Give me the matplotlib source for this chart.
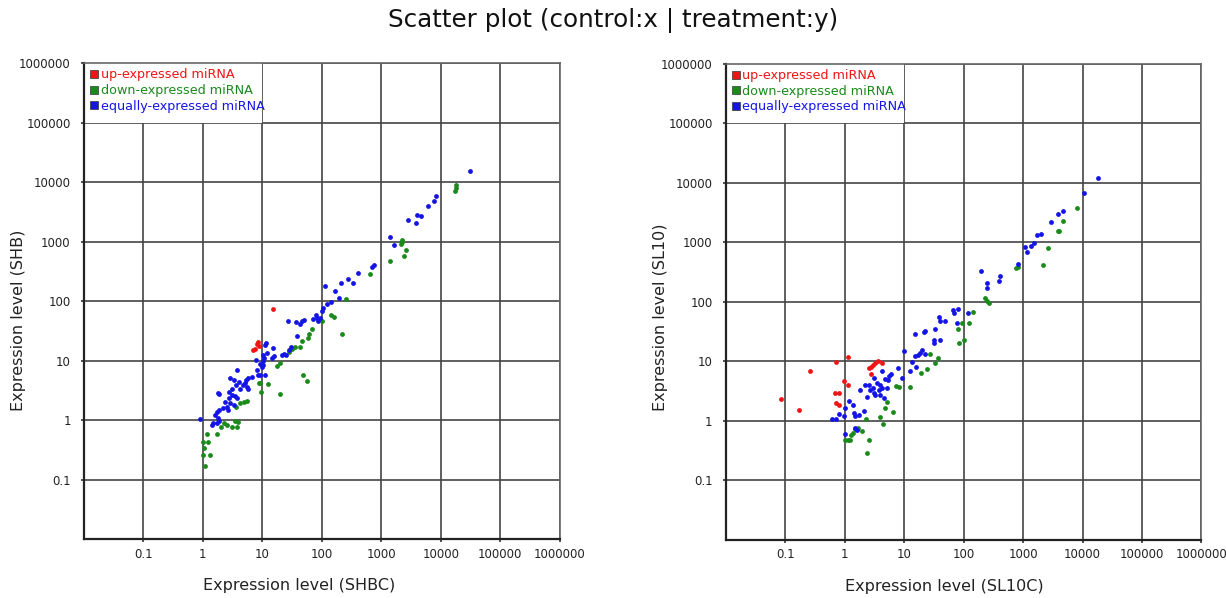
import matplotlib
matplotlib.use("Agg")
import matplotlib.pyplot as plt
from matplotlib.patches import Rectangle
from matplotlib.lines import Line2D

title = "Scatter plot (control:x | treatment:y)"
tick_vals = [0.1, 1, 10, 100, 1000, 10000, 100000, 1000000]
tick_labels = ["0.1", "1", "10", "100", "1000", "10000", "100000", "1000000"]
legend_labels = ["up-expressed miRNA", "down-expressed miRNA", "equally-expressed miRNA"]
color_up = "#f01414"
color_down = "#1a8a1a"
color_eq = "#1414e6"

# ---- Left panel: SHBC (x) vs SHB (y) ----
left_xlabel = "Expression level (SHBC)"
left_ylabel = "Expression level (SHB)"
left_up_x = [15.3, 6.9, 7.5, 8.2, 8.6, 8.8]
left_up_y = [73.7, 15.1, 16.1, 19.1, 20.8, 17.9]
left_down_x = [17670, 17800, 18000, 2220, 2200, 2180, 2590, 2430, 1396, 645, 252,
               143, 160, 221, 99.5, 68, 62, 59, 45.9, 43, 35.5, 32, 28.5,
               19.9, 17.5, 49, 55.7, 19.9, 9.2, 8.8, 12.3, 9.4, 5.5, 5.0, 4.2, 3.6,
               3.5, 3.9, 3.7, 3.1, 2.3, 2.5, 2.03, 1.72, 1.17,
               1.0, 1.24, 1.05, 1.0, 1.33, 1.07]
left_down_y = [7080, 8050, 8920, 1095, 1000, 912, 724, 589, 485, 294, 110,
               59, 54, 28.5, 47, 35, 27.8, 23.8, 21.5, 16.8, 17.3, 15.6, 14.2,
               9.06, 8.17, 5.9, 4.6, 2.73, 4.3, 4.2, 4.07, 2.95, 2.14, 2.06, 1.98, 1.7,
               0.97, 0.95, 0.77, 0.77, 0.89, 0.84, 0.77, 0.6, 0.6,
               0.43, 0.43, 0.35, 0.26, 0.26, 0.17]
left_eq_x = [30800, 8480, 7650, 6150, 4630, 3920, 3770, 2760, 1396, 1630, 762, 697,
             410, 279, 207, 338, 115, 167, 194, 141, 124, 106, 102,
             79, 72, 87.5, 93, 84, 50, 46, 37, 43, 27, 38,
             30, 28, 23, 25, 21.5, 11.6, 11.1, 15, 11.9, 10.4, 10.8, 10.2, 15.4, 14.8,
             7.9, 9.2, 9.8, 10.4, 8.1, 8.6, 9.2, 11.1,
             6.6, 5.8, 5.3, 5.1, 5.5, 5.8, 4.8,
             3.7, 2.9, 3.3, 4.1, 3.6, 3.07, 4.2,
             1.79, 1.83, 2.77, 3.07, 3.5, 3.7, 2.7, 2.37, 2.9, 3.3, 2.5, 2.2, 2.6,
             1.9, 1.72, 1.61, 1.76, 1.83, 1.72, 1.47, 1.42, 0.9]
left_eq_y = [15700, 5910, 4880, 3960, 2690, 2800, 2080, 2340, 1210, 878, 405, 380,
             305, 242, 205, 205, 182, 150, 115, 96, 89, 76, 68,
             60, 50, 47, 52, 52, 48, 47, 45, 42.5, 47, 26,
             16.8, 15.1, 13, 12.5, 12.8, 20, 18.4, 16.2, 13.7, 12.5, 11, 9.9, 12, 11,
             10.3, 8.8, 7.8, 8.5, 7, 5.9, 5.8, 5.9,
             5.4, 5.1, 4.75, 4.2, 3.7, 3.4, 3.9,
             7, 5.2, 4.75, 4.5, 3.9, 3.4, 3.4,
             2.91, 2.73, 3.03, 2.66, 2.6, 2.34, 2.4, 2.06, 1.93, 1.81, 1.7, 1.63, 1.49,
             1.49, 1.4, 1.23, 1.11, 0.97, 0.91, 0.89, 0.84, 1.04]

# ---- Right panel: SL10C (x) vs SL10 (y) ----
right_xlabel = "Expression level (SL10C)"
right_ylabel = "Expression level (SL10)"
right_up_x = [0.086, 0.173, 0.258, 0.70, 1.14, 0.96, 1.14, 0.68, 0.79, 0.72, 0.79,
              2.53, 2.77, 3.0, 3.28, 3.63, 4.24, 2.77]
right_up_y = [2.34, 1.53, 6.9, 9.9, 12, 4.7, 4.0, 3.0, 3.0, 2.03, 1.86,
              7.7, 8.2, 8.7, 9.3, 10.2, 9.3, 6.2]
right_down_x = [8030, 4670, 3950, 3800, 2610, 2130, 768, 818, 231, 247, 270,
                142, 121, 94, 80, 82, 100, 36.5, 32.6, 27.5, 24.2, 19.4,
                12.4, 8.1, 7.4, 6.4, 5.1, 4.7, 3.9, 4.35, 2.31, 2.6, 2.37,
                1.95, 1.68, 1.51, 1.36, 1.29, 1.14, 1.03, 1.24]
right_down_y = [3850, 2300, 1580, 1580, 819, 419, 368, 393, 115, 105, 97.5,
                67, 45, 43.8, 34.7, 20.7, 23, 11.6, 9.6, 13.4, 7.6, 6.5,
                3.68, 3.68, 3.87, 1.44, 2.11, 1.63, 1.18, 0.88, 1.07, 0.48, 0.29,
                0.68, 0.75, 0.73, 0.64, 0.58, 0.48, 0.48, 0.48]
right_eq_x = [18100, 10670, 4670, 3800, 2970, 1995, 1700, 1500, 1370, 1060, 1175,
              818, 198, 413, 387, 244, 244,
              118, 79, 68, 66, 77, 48, 40.5, 38,
              33.4, 22.7, 21.3, 15.4, 40.5, 31.3, 31.3,
              20, 18.7, 22.7, 15.4, 17.1, 13.5, 15.8, 12.7, 10.1,
              9.2, 7.8, 6.1, 5.6, 5.3,
              4.24, 4.82, 3.97, 3.49, 4.24, 5.15, 3.73, 3.07, 3.28, 3.97, 4.52, 2.7,
              2.37, 1.83, 2.17, 2.6, 3.15, 2.99,
              1.2, 1.38, 1.45, 1.51, 1.72, 2.09, 0.79, 0.96, 0.70, 0.60, 1.03, 1.03,
              1.51, 1.61]
right_eq_y = [12300, 6790, 3430, 3050, 2210, 1390, 1320, 968, 885, 830, 684,
              430, 336, 273, 228, 211, 170,
              66, 75, 66, 73, 43.8, 48.6, 48.6, 55,
              34.7, 32.6, 31, 28.6, 23, 23, 20.7,
              15.6, 14.1, 13.2, 12.4, 12.9, 9.9, 8.2, 6.9, 15,
              5.2, 7.7, 6.2, 5.6, 4.9,
              6.9, 5.08, 4.03, 4.3, 3.54, 3.54, 3.32, 2.92, 2.74, 2.74, 2.4, 3.32,
              2.56, 3.32, 4.03, 4.03, 5.2, 3.54,
              2.2, 1.86, 1.38, 1.21, 1.26, 1.49, 1.31, 1.23, 1.07, 1.07, 1.63, 0.6,
              0.77, 0.71]

fig = plt.figure(figsize=(12.26, 5.98), dpi=100)
fig.text(0.5, 0.966, title, ha="center", va="center", fontsize=17.7, color="#111111")

panels = [
    ([0.0685, 0.098, 0.388, 0.796], left_xlabel, left_ylabel,
     (left_up_x, left_up_y), (left_down_x, left_down_y), (left_eq_x, left_eq_y)),
    ([0.592, 0.097, 0.388, 0.796], right_xlabel, right_ylabel,
     (right_up_x, right_up_y), (right_down_x, right_down_y), (right_eq_x, right_eq_y)),
]

for rect, xl, yl, up, down, eq in panels:
    ax = fig.add_axes(rect)
    ax.set_xscale("log")
    ax.set_yscale("log")
    ax.set_xlim(0.01, 1e6)
    ax.set_ylim(0.01, 1e6)
    ax.set_xticks(tick_vals)
    ax.set_xticklabels(tick_labels)
    ax.set_yticks(tick_vals)
    ax.set_yticklabels(tick_labels)
    ax.minorticks_off()
    ax.tick_params(axis="both", length=2.5, width=1.2, direction="out",
                   color="#333333", labelsize=8.5, labelcolor="#222222")
    ax.tick_params(axis="x", pad=3.5)
    ax.tick_params(axis="y", pad=7)
    ax.set_axisbelow(True)
    ax.grid(True, color="#444444", linewidth=1.2)
    for s in ["top", "right"]:
        ax.spines[s].set_color("#666666")
        ax.spines[s].set_linewidth(1.2)
    for s in ["left", "bottom"]:
        ax.spines[s].set_color("#222222")
        ax.spines[s].set_linewidth(1.6)
    # white legend area covering the top-left grid cells
    ax.add_patch(Rectangle((0.01, 1e5), 10 - 0.01, 1e6 - 1e5, facecolor="white",
                           edgecolor="none", zorder=1))
    ax.scatter(down[0], down[1], s=12, color=color_down, zorder=3, linewidths=0)
    ax.scatter(eq[0], eq[1], s=12, color=color_eq, zorder=3, linewidths=0)
    ax.scatter(up[0], up[1], s=12, color=color_up, zorder=3, linewidths=0)
    handles = [Line2D([], [], marker="s", linestyle="none", markersize=6,
                      markerfacecolor=c, markeredgecolor="#333333", markeredgewidth=0.5)
               for c in (color_up, color_down, color_eq)]
    leg = ax.legend(handles, legend_labels, loc="upper left", frameon=False,
                    fontsize=9.2, handletextpad=0.1, handlelength=0.8,
                    borderaxespad=0.2, labelspacing=0.2, borderpad=0.2)
    for t, c in zip(leg.get_texts(), (color_up, color_down, color_eq)):
        t.set_color(c)
    ax.text(0.25, -0.081, xl, transform=ax.transAxes, ha="left", va="top",
            fontsize=11.5, color="#222222")
    ax.text(-0.137, 0.27, yl, transform=ax.transAxes, ha="center", va="bottom",
            rotation=90, fontsize=11.5, color="#222222")

fig.savefig("out.png", dpi=100)
